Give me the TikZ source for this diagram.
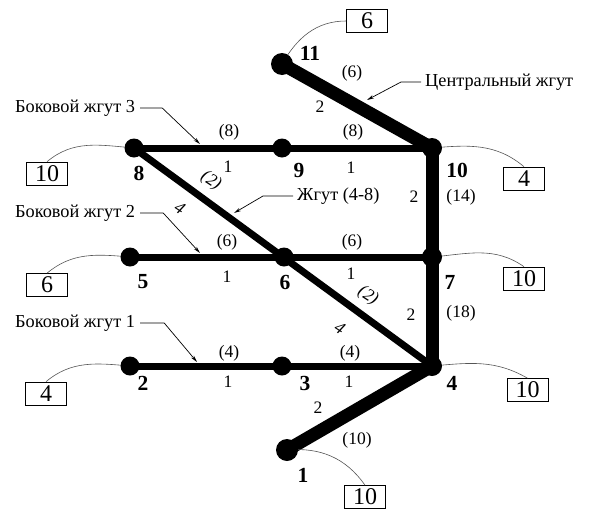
\documentclass[tikz,border=0pt]{standalone}
\usepackage{fontspec}
\setmainfont{Liberation Serif}
\usepackage{xcolor}
\usepackage{tikz}
\usetikzlibrary{arrows.meta}
\definecolor{figline}{RGB}{0,0,0}
\definecolor{figtie}{RGB}{85,85,85}
\tikzset{
  wt/.style   ={draw=figline, line width=7pt},
  wb/.style   ={draw=figline, line width=13pt},
  tie/.style  ={draw=figtie, line width=0.6pt},
  ldr/.style  ={draw=figline, line width=0.7pt, -{Stealth[length=7pt,width=3.5pt]}},
  nlab/.style ={font=\fontsize{21.5}{23}\selectfont\bfseries, inner sep=0pt},
  wlab/.style ={font=\fontsize{17.5}{19}\selectfont, inner sep=0pt},
  dlab/.style ={font=\fontsize{17.5}{19}\selectfont\itshape, inner sep=0pt, rotate=-33},
  clab/.style ={font=\fontsize{18.3}{20}\selectfont, inner sep=0pt},
  tag/.style  ={draw=figline, line width=0.6pt, minimum width=41pt, minimum height=23pt, inner sep=0pt, font=\fontsize{24}{26}\selectfont},
}

\begin{document}
\begin{tikzpicture}[x=1pt,y=1pt]
  \useasboundingbox (0,0) rectangle (592,-509);
  \coordinate (n1) at (287,-450);
  \coordinate (n2) at (130,-366);
  \coordinate (n3) at (282,-366);
  \coordinate (n4) at (432,-366);
  \coordinate (n5) at (130,-257);
  \coordinate (n6) at (284,-257);
  \coordinate (n7) at (432,-257);
  \coordinate (n8) at (134,-148);
  \coordinate (n9) at (282,-148);
  \coordinate (n10) at (432,-148);
  \coordinate (n11) at (282,-64);
  \draw[wb] (n11) -- (n10);
  \draw[wb] (n10) -- (n7);
  \draw[wb] (n7) -- (n4);
  \draw[wb] (n4) -- (n1);
  \draw[wt] (n8) -- (n9);
  \draw[wt] (n9) -- (n10);
  \draw[wt] (n5) -- (n6);
  \draw[wt] (n6) -- (n7);
  \draw[wt] (n2) -- (n3);
  \draw[wt] (n3) -- (n4);
  \draw[wt] (n8) -- (n4);
  \node[tag] (b11) at (367,-21) {6};
  \node[tag] (b8) at (47,-173.5) {10};
  \node[tag] (b10) at (524,-178.5) {4};
  \node[tag] (b5) at (47,-285) {6};
  \node[tag] (b7) at (524,-278.5) {10};
  \node[tag] (b2) at (46,-393.5) {4};
  \node[tag] (b4) at (527.5,-390) {10};
  \node[tag] (b1) at (365,-497) {10};
  \draw[tie] (n11) to[out=60,in=180] (b11.west);
  \draw[tie] (n8) to[out=175,in=40] (b8.north);
  \draw[tie] (n10) to[out=5,in=140] (b10.north);
  \draw[tie] (n5) to[out=175,in=40] (b5.north);
  \draw[tie] (n7) to[out=5,in=145] (b7.north);
  \draw[tie] (n2) to[out=175,in=40] (b2.north);
  \draw[tie] (n4) to[out=5,in=150] (b4.north);
  \draw[tie] (n1) to[out=5,in=125] (b1.north);
  \fill[figline] (n11) circle (11);
  \fill[figline] (n1) circle (11);
  \fill[figline] (n10) circle (10);
  \fill[figline] (n7) circle (10);
  \fill[figline] (n4) circle (10);
  \foreach \n in {n2,n3,n5,n6,n8,n9}
    \fill[figline] (\n) circle (9.5);
  \node[clab,anchor=west] (c3) at (15,-108) {Боковой жгут 3};
  \node[clab,anchor=west] (c2) at (15,-213) {Боковой жгут 2};
  \node[clab,anchor=west] (c1) at (15,-323) {Боковой жгут 1};
  \node[clab,anchor=west] (cc) at (425,-82) {Центральный жгут};
  \node[clab,anchor=west] (cd) at (297,-196) {Жгут (4-8)};
  \coordinate (p3) at (200,-144);
  \coordinate (p2) at (200,-253);
  \coordinate (p1) at (197,-362);
  \coordinate (pc) at (367,-100);
  \coordinate (pd) at (234,-213);
  \draw[ldr] ([xshift=5pt]c3.east) -- ++(22,0) -- (p3);
  \draw[ldr] ([xshift=5pt]c2.east) -- ++(23,0) -- (p2);
  \draw[ldr] ([xshift=5pt]c1.east) -- ++(24,0) -- (p1);
  \draw[ldr] ([xshift=-4pt]cc.west) -- ++(-20,0) -- (pc);
  \draw[ldr] ([xshift=-4pt]cd.west) -- ++(-30,0) -- (pd);
  \node[nlab] (t11) at (310,-53) {11};
  \node[nlab] (t8) at (139,-173) {8};
  \node[nlab] (t9) at (299,-170) {9};
  \node[nlab] (t10) at (457,-170) {10};
  \node[nlab] (t5) at (143,-282) {5};
  \node[nlab] (t6) at (285,-282) {6};
  \node[nlab] (t7) at (450,-282) {7};
  \node[nlab] (t2) at (143,-383) {2};
  \node[nlab] (t3) at (305,-383) {3};
  \node[nlab] (t4) at (452,-383) {4};
  \node[nlab] (t1) at (303,-475) {1};
  \node[wlab] (e1) at (352,-73) {(6)};
  \node[wlab] (e2) at (320,-107) {2};
  \node[wlab] (e3) at (229,-132) {(8)};
  \node[wlab] (e4) at (228,-167) {1};
  \node[wlab] (e5) at (353,-132) {(8)};
  \node[wlab] (e6) at (351,-168) {1};
  \node[wlab] (e7) at (414,-197) {2};
  \node[wlab] (e8) at (461,-197) {(14)};
  \node[wlab] (e9) at (227,-242) {(6)};
  \node[wlab] (e10) at (227,-277) {1};
  \node[wlab] (e11) at (352,-242) {(6)};
  \node[wlab] (e12) at (351,-274) {1};
  \node[wlab] (e13) at (411,-315) {2};
  \node[wlab] (e14) at (461,-313) {(18)};
  \node[wlab] (e15) at (229,-353) {(4)};
  \node[wlab] (e16) at (228,-382) {1};
  \node[wlab] (e17) at (350,-353) {(4)};
  \node[wlab] (e18) at (349,-382) {1};
  \node[wlab] (e19) at (318,-408) {2};
  \node[wlab] (e20) at (357,-440) {(10)};
  \node[dlab] (e21) at (211,-181) {(2)};
  \node[dlab] (e22) at (180,-208) {4};
  \node[dlab] (e23) at (368,-296) {(2)};
  \node[dlab] (e24) at (340,-328) {4};
\end{tikzpicture}
\end{document}
